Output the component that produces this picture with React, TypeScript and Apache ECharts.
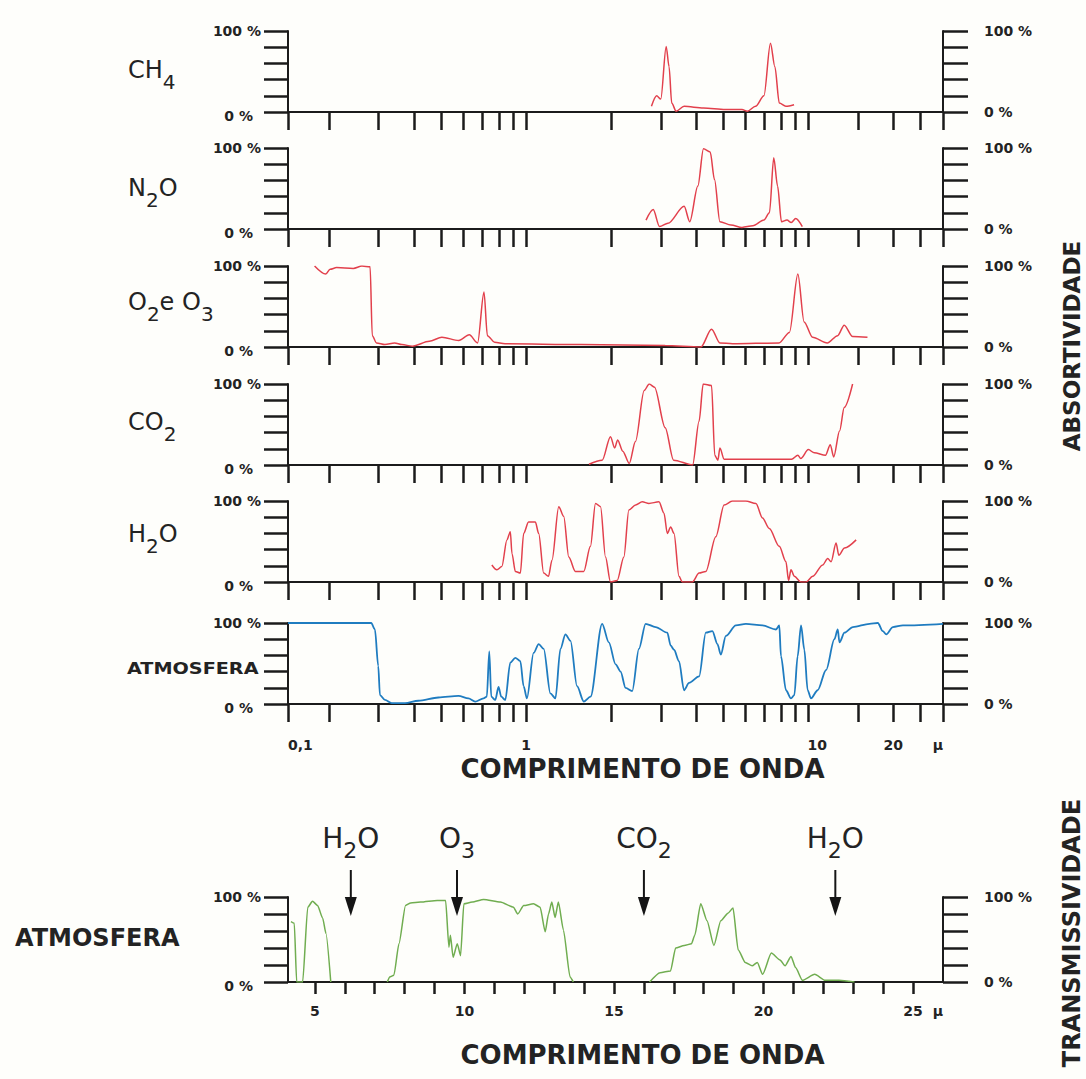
import React, { useEffect, useRef } from 'react';
import * as echarts from 'echarts';

// ---------- data: [wavelength µm, % ] ----------
const CH4: [number, number][] = [
  [2.78, 7], [2.9, 20], [3.0, 16], [3.135, 81], [3.21, 56], [3.28, 11], [3.4, 1], [3.63, 7],
  [4.25, 5], [5.08, 3], [5.82, 3], [6.08, 1], [6.5, 7], [6.96, 20], [7.34, 85], [7.61, 56],
  [7.89, 11], [8.32, 7], [8.9, 9],
];
const N2O: [number, number][] = [
  [2.66, 11], [2.82, 24], [2.97, 3], [3.18, 7], [3.63, 28], [3.8, 9], [4.06, 53], [4.25, 99],
  [4.49, 95], [4.65, 61], [4.86, 9], [5.32, 5], [5.82, 2], [6.36, 4], [6.96, 11], [7.28, 20],
  [7.54, 88], [7.78, 53], [8.03, 9], [8.4, 11], [8.7, 8], [9.02, 13], [9.52, 3],
];
const O2_O3: [number, number][] = [
  [0.178, 100], [0.195, 90], [0.202, 96], [0.213, 98], [0.244, 97], [0.262, 100], [0.28, 99],
  [0.285, 14], [0.295, 5], [0.316, 3], [0.342, 5], [0.363, 3], [0.395, 1], [0.454, 7],
  [0.503, 12], [0.577, 8], [0.629, 15], [0.673, 5], [0.709, 68], [0.729, 14], [0.773, 6],
  [0.842, 4], [1.56, 3], [3.11, 2], [4.16, 0], [4.54, 22], [4.86, 5], [5.39, 4], [7.87, 5],
  [8.57, 18], [9.18, 90], [9.66, 31], [10.35, 12], [11.67, 5], [12.7, 14], [13.4, 27],
  [14.35, 13], [16.2, 12],
];
const CO2: [number, number][] = [
  [1.67, 1], [1.86, 6], [1.99, 35], [2.06, 21], [2.11, 31], [2.2, 17], [2.32, 2], [2.44, 29],
  [2.62, 92], [2.73, 100], [2.85, 96], [3.11, 46], [3.33, 6], [3.89, 0], [4.1, 54], [4.24, 100],
  [4.54, 98], [4.66, 12], [4.78, 6], [4.86, 21], [5.03, 7], [5.39, 7], [8.72, 7], [9.18, 12],
  [9.4, 8], [10, 19], [10.5, 15], [11.5, 12], [11.96, 25], [12.3, 10], [12.9, 42], [13.4, 71],
  [14.35, 100],
];
const H2O: [number, number][] = [
  [0.756, 21], [0.788, 15], [0.82, 19], [0.855, 52], [0.879, 62], [0.891, 35], [0.916, 13],
  [0.954, 11], [0.98, 60], [1.02, 74], [1.078, 74], [1.108, 60], [1.154, 11], [1.2, 7],
  [1.235, 27], [1.305, 93], [1.359, 81], [1.416, 31], [1.495, 13], [1.6, 13], [1.69, 44],
  [1.761, 97], [1.835, 93], [1.911, 31], [1.99, 0], [2.102, 2], [2.22, 31], [2.312, 89],
  [2.443, 95], [2.579, 99], [2.724, 97], [2.956, 99], [3.08, 85], [3.164, 60], [3.252, 68],
  [3.342, 60], [3.481, 7], [3.577, 0], [3.88, 0], [4.1, 11], [4.33, 13], [4.7, 56], [5.03, 95],
  [5.38, 100], [6.0, 100], [6.52, 97], [6.88, 79], [7.27, 66], [7.89, 44], [8.33, 25],
  [8.51, 2], [8.68, 15], [8.92, 7], [9.42, 0], [9.81, 0], [10.36, 7], [11.24, 21], [11.71, 29],
  [12.04, 25], [12.54, 48], [12.82, 33], [13.43, 42], [14.77, 52],
];
const ATMOSPHERE: [number, number][] = [
  [0.1433, 100], [0.2826, 100], [0.2912, 92], [0.2992, 47], [0.3034, 11], [0.3161, 5],
  [0.3337, 1], [0.3723, 1], [0.415, 4], [0.4888, 8], [0.5757, 10], [0.6248, 7], [0.66, 3],
  [0.7063, 7], [0.7257, 9], [0.7403, 65], [0.7524, 9], [0.7773, 5], [0.7985, 21], [0.8163, 9],
  [0.8435, 5], [0.8788, 51], [0.9154, 57], [0.9537, 53], [0.9797, 22], [1.0065, 7], [1.063, 63],
  [1.108, 74], [1.154, 68], [1.219, 13], [1.27, 7], [1.323, 68], [1.378, 86], [1.436, 78],
  [1.515, 22], [1.601, 3], [1.691, 9], [1.859, 99], [1.964, 76], [2.075, 49], [2.161, 40],
  [2.251, 20], [2.376, 16], [2.51, 68], [2.651, 99], [2.877, 95], [3.164, 88], [3.253, 72],
  [3.342, 67], [3.481, 53], [3.626, 17], [3.778, 26], [4.101, 34], [4.332, 88], [4.571, 90],
  [4.762, 74], [4.897, 61], [5.101, 84], [5.536, 97], [6.006, 99], [6.882, 97], [7.68, 92],
  [7.889, 97], [7.998, 59], [8.332, 17], [8.68, 7], [8.919, 11], [9.163, 59], [9.421, 97],
  [9.678, 67], [9.943, 17], [10.22, 7], [10.79, 17], [11.56, 42], [12.37, 80], [12.71, 92],
  [12.89, 76], [13.43, 88], [14.37, 95], [16.47, 99], [17.63, 100], [18.36, 90], [18.88, 86],
  [19.93, 95], [21.63, 97], [30, 99],
];
// Transmissivity (bottom panel), three windows
const TRANS_A: [number, number][] = [
  [4.2, 71], [4.31, 69], [4.39, 0], [4.59, 0], [4.76, 88], [4.92, 95], [5.09, 90], [5.26, 75],
  [5.37, 57], [5.53, 0],
];
const TRANS_B: [number, number][] = [
  [7.42, 0], [7.5, 6], [7.64, 8], [7.81, 45], [8.03, 90], [8.2, 93], [8.53, 94], [9.09, 96],
  [9.37, 96], [9.48, 41], [9.53, 55], [9.62, 29], [9.76, 45], [9.87, 31], [9.98, 92],
  [10.26, 94], [10.64, 97], [11.2, 94], [11.64, 88], [11.78, 80], [11.98, 90], [12.31, 92],
  [12.53, 88], [12.7, 59], [12.81, 80], [12.92, 94], [13.03, 76], [13.14, 94], [13.31, 61],
  [13.53, 6], [13.64, 0],
];
const TRANS_C: [number, number][] = [
  [16.19, 0], [16.54, 11], [16.89, 13], [17.06, 40], [17.35, 43], [17.59, 45], [17.7, 55],
  [17.9, 92], [18.11, 72], [18.34, 43], [18.57, 72], [18.81, 81], [18.98, 87], [19.15, 38],
  [19.39, 23], [19.62, 19], [19.79, 23], [19.97, 9], [20.26, 34], [20.55, 26], [20.72, 19],
  [20.92, 30], [21.07, 17], [21.3, 2], [21.71, 9], [22.06, 2], [22.52, 2], [23.04, 0],
];

// axes
const TOP_MIN_UM = 0.1433;
const TOP_MAX_UM = 30;
const TOP_TICKS_UM = [0.1433, 0.2, 0.3, 0.4, 0.5, 0.6, 0.7, 0.8, 0.9, 1, 2, 3, 4, 5, 6, 7, 8, 9, 10, 15, 20, 25, 30];
const TOP_LABELS: [number, string][] = [[0.1433, '0,1'], [1, '1'], [10, '{r|10}'], [20, '20'], [30, 'µ']];
const BOTTOM_MIN_UM = 4.1;
const BOTTOM_MAX_UM = 26;
const BOTTOM_TICKS_UM = [5, 6, 7, 8, 9, 10, 11, 12, 13, 14, 15, 16, 17, 18, 19, 20, 21, 22, 23, 24, 25];
const BOTTOM_LABELS: [number, string][] = [[5, '5'], [10, '10'], [15, '15'], [20, '20'], [25, '25'], [26, 'µ']];

const PANEL_NAMES = ['{n|CH}{s|4}', '{n|N}{s|2}{n|O}', '{n|O}{s|2}{n|e O}{s|3}', '{n|CO}{s|2}', '{n|H}{s|2}{n|O}'];
const ARROW_UM = [6.2, 9.75, 16.0, 22.4];
const ARROW_NAMES = ['{n|H}{s|2}{n|O}', '{n|O}{s|3}', '{n|CO}{s|2}', '{n|H}{s|2}{n|O}'];

const RED = '#e2404c';
const BLUE = '#1f7cc0';
const GREEN = '#70ad50';
const AX = '#1b1b1b';
const TXT = '#232323';
const FONT = '"DejaVu Sans", "Liberation Sans", sans-serif';

const TOP_TOPS = [31, 148, 266, 384, 501, 623];
const GRID_LEFT = 288;
const GRID_W = 655;

const lg = (v: number) => Math.log10(v);

function buildOption(): any {
  const grids: any[] = TOP_TOPS.map((top) => ({ left: GRID_LEFT, width: GRID_W, top, height: 81, containLabel: false, outerBoundsMode: 'none' }));
  grids.push({ left: GRID_LEFT, width: GRID_W, top: 897, height: 85, containLabel: false, outerBoundsMode: 'none' });

  const labelStyle = { fontFamily: FONT, fontWeight: 'bold', fontSize: 14, color: TXT };
  const topLabelFmt = (v: number) => {
    const hit = TOP_LABELS.find(([um]) => Math.abs(lg(um) - v) < 1e-6);
    return hit ? hit[1] : '';
  };
  const bottomLabelFmt = (v: number) => {
    const hit = BOTTOM_LABELS.find(([um]) => Math.abs(um - v) < 1e-6);
    return hit ? hit[1] : '';
  };

  const xAxes: any[] = TOP_TOPS.map((_, i) => ({
    type: 'value',
    gridIndex: i,
    min: lg(TOP_MIN_UM),
    max: lg(TOP_MAX_UM),
    axisLine: { show: true, onZero: false, lineStyle: { color: AX, width: 2 } },
    axisTick: { show: true, customValues: TOP_TICKS_UM.map(lg), length: 18, lineStyle: { color: AX, width: 2.5 } },
    axisLabel: i === 5
      ? {
          show: true,
          customValues: TOP_LABELS.map(([um]) => lg(um)),
          formatter: topLabelFmt,
          rich: { r: { padding: [0, 0, 0, 18], fontFamily: FONT, fontWeight: 'bold', fontSize: 14, color: TXT } },
          margin: 34,
          alignMinLabel: 'left',
          alignMaxLabel: 'right',
          showMinLabel: true,
          showMaxLabel: true,
          hideOverlap: false,
          ...labelStyle,
        }
      : { show: false },
    splitLine: { show: false },
    name: i === 5 ? 'COMPRIMENTO DE ONDA' : '',
    nameLocation: 'middle',
    nameGap: 52,
    nameTextStyle: { fontFamily: FONT, fontWeight: 'bold', fontSize: 26, color: TXT, padding: [0, 0, 0, 54] },
  }));
  xAxes.push({
    type: 'value',
    gridIndex: 6,
    min: BOTTOM_MIN_UM,
    max: BOTTOM_MAX_UM,
    axisLine: { show: true, onZero: false, lineStyle: { color: AX, width: 2 } },
    axisTick: { show: true, customValues: BOTTOM_TICKS_UM, length: 12, lineStyle: { color: AX, width: 2.5 } },
    axisLabel: {
      show: true,
      customValues: BOTTOM_LABELS.map(([um]) => um),
      formatter: bottomLabelFmt,
      margin: 22,
      alignMaxLabel: 'right',
      showMaxLabel: true,
      hideOverlap: false,
      ...labelStyle,
    },
    splitLine: { show: false },
    name: 'COMPRIMENTO DE ONDA',
    nameLocation: 'middle',
    nameGap: 60,
    nameTextStyle: { fontFamily: FONT, fontWeight: 'bold', fontSize: 26, color: TXT, padding: [0, 0, 0, 54] },
  });

  const yAxes: any[] = [];
  for (let i = 0; i < 7; i++) {
    yAxes.push({
      type: 'value',
      gridIndex: i,
      position: 'left',
      min: 0,
      max: 100,
      interval: 20,
      axisLine: { show: true, onZero: false, lineStyle: { color: AX, width: 2 } },
      axisTick: { show: true, length: 24, lineStyle: { color: AX, width: 2.5 } },
      axisLabel: {
        margin: 27,
        formatter: (v: number) => (v === 100 ? '100 %' : v === 0 ? '{z|0 %}' : ''),
        rich: { z: { padding: [8, 8, 0, 0], fontFamily: FONT, fontWeight: 'bold', fontSize: 14, color: TXT } },
        ...labelStyle,
      },
      splitLine: { show: false },
    });
    yAxes.push({
      type: 'value',
      gridIndex: i,
      position: 'right',
      min: 0,
      max: 100,
      interval: 20,
      axisLine: { show: true, onZero: false, lineStyle: { color: AX, width: 2 } },
      axisTick: { show: true, length: 25, lineStyle: { color: AX, width: 2.5 } },
      axisLabel: {
        margin: 41,
        formatter: (v: number) => (v === 100 ? '100 %' : v === 0 ? '0 %' : ''),
        ...labelStyle,
      },
      splitLine: { show: false },
    });
  }

  const topSets = [CH4, N2O, O2_O3, CO2, H2O, ATMOSPHERE];
  const series: any[] = topSets.map((set, i) => ({
    type: 'line',
    xAxisIndex: i,
    yAxisIndex: i * 2,
    data: set.map(([um, v]) => [lg(um), v]),
    showSymbol: false,
    symbol: 'none',
    smooth: 0.3,
    smoothMonotone: 'x',
    lineStyle: { color: i === 5 ? BLUE : RED, width: i === 5 ? 1.8 : 1.5 },
    itemStyle: { color: i === 5 ? BLUE : RED },
    silent: true,
    clip: true,
  }));
  [TRANS_A, TRANS_B, TRANS_C].forEach((set) => {
    series.push({
      type: 'line',
      xAxisIndex: 6,
      yAxisIndex: 12,
      data: set.map(([um, v]) => [um, v]),
      showSymbol: false,
      symbol: 'none',
      smooth: 0.2,
      smoothMonotone: 'x',
      lineStyle: { color: GREEN, width: 1.5 },
      itemStyle: { color: GREEN },
      silent: true,
      clip: true,
    });
  });

  return {
    animation: false,
    backgroundColor: '#fefefb',
    grid: grids,
    xAxis: xAxes,
    yAxis: yAxes,
    series,
  };
}

function buildGraphics(chart: any): any[] {
  const chemRich = (size: number, sub: number, drop: number) => ({
    n: { fontSize: size, lineHeight: sub + drop * 2, fontFamily: FONT, fill: TXT },
    s: { fontSize: sub, lineHeight: sub, verticalAlign: 'bottom', fontFamily: FONT, fill: TXT },
  });
  const els: any[] = [];
  const labelY = [70, 188, 302, 422, 534];
  PANEL_NAMES.forEach((t, i) => {
    els.push({
      type: 'text',
      x: 128,
      y: labelY[i],
      silent: true,
      style: { text: t, align: 'left', verticalAlign: 'middle', rich: chemRich(24, 20, 12) },
    });
  });
  els.push({
    type: 'text', x: 127, y: 669, scaleX: 1.2, silent: true,
    style: { text: 'ATMOSFERA', align: 'left', verticalAlign: 'middle', fontFamily: FONT, fontWeight: 'bold', fontSize: 16, fill: TXT },
  });
  els.push({
    type: 'text', x: 15, y: 938, silent: true,
    style: { text: 'ATMOSFERA', align: 'left', verticalAlign: 'middle', fontFamily: FONT, fontWeight: 'bold', fontSize: 24, fill: TXT },
  });
  els.push({
    type: 'text', x: 1072, y: 346, rotation: Math.PI / 2, silent: true,
    style: { text: 'ABSORTIVIDADE', align: 'center', verticalAlign: 'middle', fontFamily: FONT, fontWeight: 'bold', fontSize: 23, fill: TXT },
  });
  els.push({
    type: 'text', x: 1072, y: 933, rotation: Math.PI / 2, silent: true,
    style: { text: 'TRANSMISSIVIDADE', align: 'center', verticalAlign: 'middle', fontFamily: FONT, fontWeight: 'bold', fontSize: 24, fill: TXT },
  });
  ARROW_UM.forEach((um, i) => {
    const x = chart.convertToPixel({ xAxisIndex: 6 }, um);
    els.push({ type: 'line', silent: true, shape: { x1: x, y1: 870, x2: x, y2: 900 }, style: { stroke: '#151515', lineWidth: 2 } });
    els.push({ type: 'polygon', silent: true, shape: { points: [[x - 6, 897], [x + 6, 897], [x, 916]] }, style: { fill: '#151515' } });
    els.push({
      type: 'text', x, y: 838, silent: true,
      style: { text: ARROW_NAMES[i], align: 'center', verticalAlign: 'middle', rich: chemRich(28, 22, 12) },
    });
  });
  return els;
}

export default function App() {
  const ref = useRef<HTMLDivElement>(null);
  useEffect(() => {
    if (!ref.current) return;
    const chart = echarts.init(ref.current, null, { renderer: 'svg', width: 1086, height: 1079 });
    chart.setOption(buildOption());
    chart.setOption({ graphic: buildGraphics(chart) });
    return () => chart.dispose();
  }, []);
  return <div ref={ref} style={{ position: 'absolute', left: 0, top: 0, width: 1086, height: 1079 }} />;
}
